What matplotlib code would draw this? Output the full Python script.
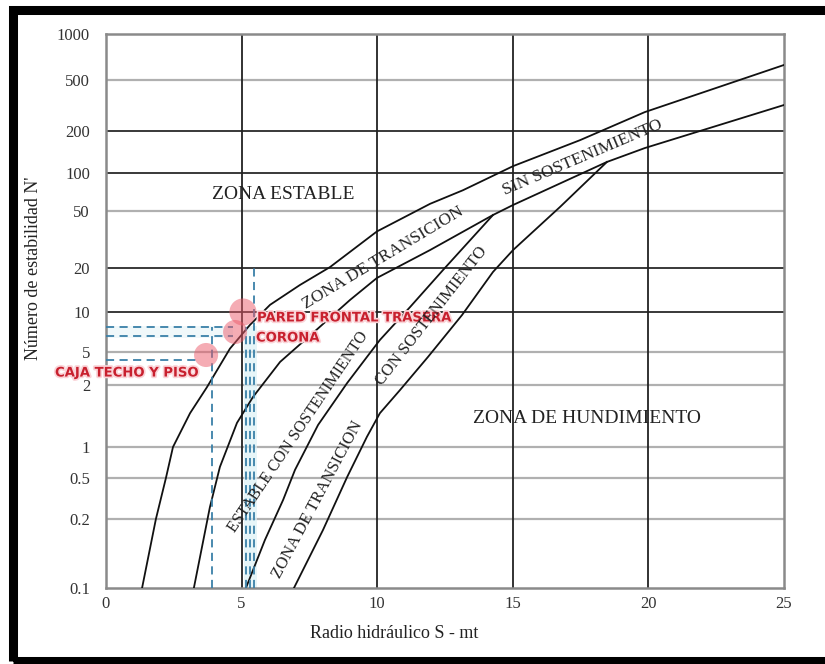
import numpy as np
import matplotlib
matplotlib.use('Agg')
import matplotlib.pyplot as plt
from matplotlib import patheffects
from matplotlib.patches import Rectangle

# valores (S en m, N' adimensional)
y_ticks = [0.1, 0.2, 0.5, 1, 2, 5, 10, 20, 50, 100, 200, 500, 1000]
y_tick_labels = ['0.1', '0.2', '0.5', '1', '2', '5', '10', '20', '50', '100', '200', '500', '1000']
x_ticks = [0, 5, 10, 15, 20, 25]

# limite superior zona de transicion (estable / transicion)
curva_a_x = [1.33, 1.84, 2.21, 2.47, 3.10, 3.72, 4.57, 5.31, 6.05, 7.15, 8.26, 9.99, 11.95, 13.16, 15.01, 17.48, 19.87, 25.0]
curva_a_y = [0.1, 0.2, 0.5, 1.0, 1.46, 1.95, 5.3, 8.0, 11.2, 15.3, 20.3, 36, 57, 73, 112, 172, 281, 627]
# limite inferior zona de transicion sin sostenimiento
curva_b_x = [3.24, 3.83, 4.20, 4.83, 5.42, 6.42, 7.63, 9.00, 9.99, 11.95, 14.27, 15.01, 18.47, 19.87, 25.0]
curva_b_y = [0.1, 0.26, 0.64, 1.31, 1.75, 3.8, 6.95, 12.1, 17.1, 26.7, 46.9, 55.8, 120, 151, 319]
# estable con sostenimiento / transicion con sostenimiento
curva_c_x = [5.16, 5.86, 6.53, 6.97, 7.82, 8.89, 9.62, 10.10, 11.21, 12.43, 14.27]
curva_c_y = [0.1, 0.162, 0.306, 0.6, 1.28, 2.11, 4.35, 6.16, 10.8, 19.4, 46.9]
# transicion con sostenimiento / hundimiento
curva_d_x = [6.93, 8.00, 8.89, 9.62, 10.10, 10.84, 11.87, 13.13, 14.27, 15.01, 16.74, 18.47]
curva_d_y = [0.1, 0.179, 0.51, 1.12, 1.46, 1.89, 4.35, 9.5, 18.8, 26.7, 53.8, 120]

# puntos evaluados
puntos_nombre = ['PARED FRONTAL TRASERA', 'CORONA', 'CAJA TECHO Y PISO']
puntos_x = [5.05, 4.76, 3.69]
puntos_y = [10.0, 7.07, 4.6]

# lineas de lectura (N' en y, S en x)
lectura_h_y = [7.7, 6.6, 4.0]
lectura_h_x = [4.68, 4.68, 3.47]
lectura_v_x = [3.9, 5.15, 5.3, 5.45]
lectura_v_y = [7.7, 7.7, 6.6, 21.0]

# la escala vertical del original no es log uniforme
pos_ticks = [0, 0.1245, 0.1986, 0.2545, 0.3664, 0.4260, 0.4982, 0.5776, 0.6805, 0.7491, 0.8249, 0.9170, 1.0]
log_ticks = np.log10(y_ticks)


def fwd(v):
    v = np.clip(np.asarray(v, dtype=float), 1e-6, None)
    return np.interp(np.log10(v), log_ticks, pos_ticks)


def inv(p):
    return 10 ** np.interp(p, pos_ticks, log_ticks)


serif = ['Liberation Serif', 'DejaVu Serif']
plt.rcParams['font.family'] = serif

fig = plt.figure(figsize=(8.25, 6.64), dpi=100)
ax = fig.add_axes([106 / 825, 1 - 588 / 664, 678 / 825, 554 / 664])
ax.set_yscale('function', functions=(fwd, inv))
ax.set_xlim(0, 25)
ax.set_ylim(0.1, 1000)

# rejilla
oscuras = [10, 20, 100, 200]
for v in y_ticks[1:-1]:
    if v in oscuras:
        ax.axhline(v, color='#2a2a2a', lw=1.3, zorder=1)
    else:
        ax.axhline(v, color='#b0b0b0', lw=1.6, zorder=1)
for v in x_ticks[1:-1]:
    ax.axvline(v, color='#222222', lw=1.3, zorder=1)

for s in ax.spines.values():
    s.set_color('#8a8a8a')
    s.set_linewidth(1.8)

ax.set_xticks(x_ticks)
ax.set_xticklabels([str(t) for t in x_ticks])
ax.set_yticks(y_ticks)
ax.set_yticklabels(y_tick_labels)
ax.minorticks_off()
ax.tick_params(axis='y', length=0, pad=11.5, labelsize=12, colors='#333333')
ax.tick_params(axis='x', length=0, pad=6, labelsize=12, colors='#333333')

# curvas
for cx, cy in [(curva_a_x, curva_a_y), (curva_b_x, curva_b_y),
               (curva_c_x, curva_c_y), (curva_d_x, curva_d_y)]:
    ax.plot(cx, cy, color='#111111', lw=1.3, zorder=3)

# resaltado suave detras de las lineas de lectura
ax.fill_between([5.08, 5.55], 0.1, 7.9, color='#dcf1f6', alpha=0.7, lw=0, zorder=2)
ax.fill_between([0.02, 4.7], 6.4, 7.9, color='#e6f4f8', alpha=0.6, lw=0, zorder=2)

# lineas de lectura
azul = '#3a80a8'
for yy, xx in zip(lectura_h_y, lectura_h_x):
    ax.plot([0, xx], [yy, yy], color=azul, lw=1.3, ls=(0, (4.5, 3)), zorder=4)
for xx, yy in zip(lectura_v_x, lectura_v_y):
    ax.plot([xx, xx], [0.1, yy], color=azul, lw=1.3, ls=(0, (4.5, 3)), zorder=4)

# puntos
ax.scatter(puntos_x, puntos_y, s=[380, 300, 300], color='#ec5a6a', alpha=0.5,
           edgecolors='none', zorder=5)

rojo = '#c8202e'
halo = [patheffects.withStroke(linewidth=2.5, foreground='#fad4d8')]
ax.text(5.57, 9.02, puntos_nombre[0], color=rojo, fontsize=9.5, fontweight='bold',
        family='DejaVu Sans', ha='left', va='center', path_effects=halo, zorder=6)
ax.text(5.53, 6.37, puntos_nombre[1], color=rojo, fontsize=9.5, fontweight='bold',
        family='DejaVu Sans', ha='left', va='center', path_effects=halo, zorder=6)
ax.text(-1.88, 2.79, puntos_nombre[2], color=rojo, fontsize=9.5, fontweight='bold',
        family='DejaVu Sans', ha='left', va='center', path_effects=halo, zorder=6,
        clip_on=False)

# textos de zonas
txt = dict(color='#222222', ha='center', va='center', zorder=6, rotation_mode='anchor')
ax.text(6.53, 67, 'ZONA ESTABLE', fontsize=14, **txt)
ax.text(17.74, 1.38, 'ZONA DE HUNDIMIENTO', fontsize=14, **txt)
ax.text(10.2, 23.5, 'ZONA DE TRANSICION', fontsize=12.5, rotation=31, **txt)
ax.text(17.59, 128, 'SIN SOSTENIMIENTO', fontsize=12.5, rotation=23, **txt)
ax.text(7.08, 1.18, 'ESTABLE CON SOSTENIMIENTO', fontsize=11.5, rotation=56, **txt)
ax.text(7.82, 0.305, 'ZONA DE TRANSICION', fontsize=12, rotation=62, **txt)
ax.text(12.02, 9.33, 'CON SOSTENIMIENTO', fontsize=12, rotation=52, **txt)

fig.text(394 / 825, 1 - 633 / 664, 'Radio hidráulico S - mt', fontsize=13,
         ha='center', va='center', color='#222222')
fig.text(34 / 825, 1 - 268 / 664, "Número de estabilidad N'", fontsize=13,
         rotation=90, ha='center', va='center', color='#222222')

# marco negro exterior
fig.patches.append(Rectangle((12.5 / 825, 3.5 / 664), 830 / 825, 651 / 664,
                             transform=fig.transFigure, fill=False,
                             edgecolor='black', linewidth=6.5))

fig.savefig('out.png', dpi=100, facecolor='white')
